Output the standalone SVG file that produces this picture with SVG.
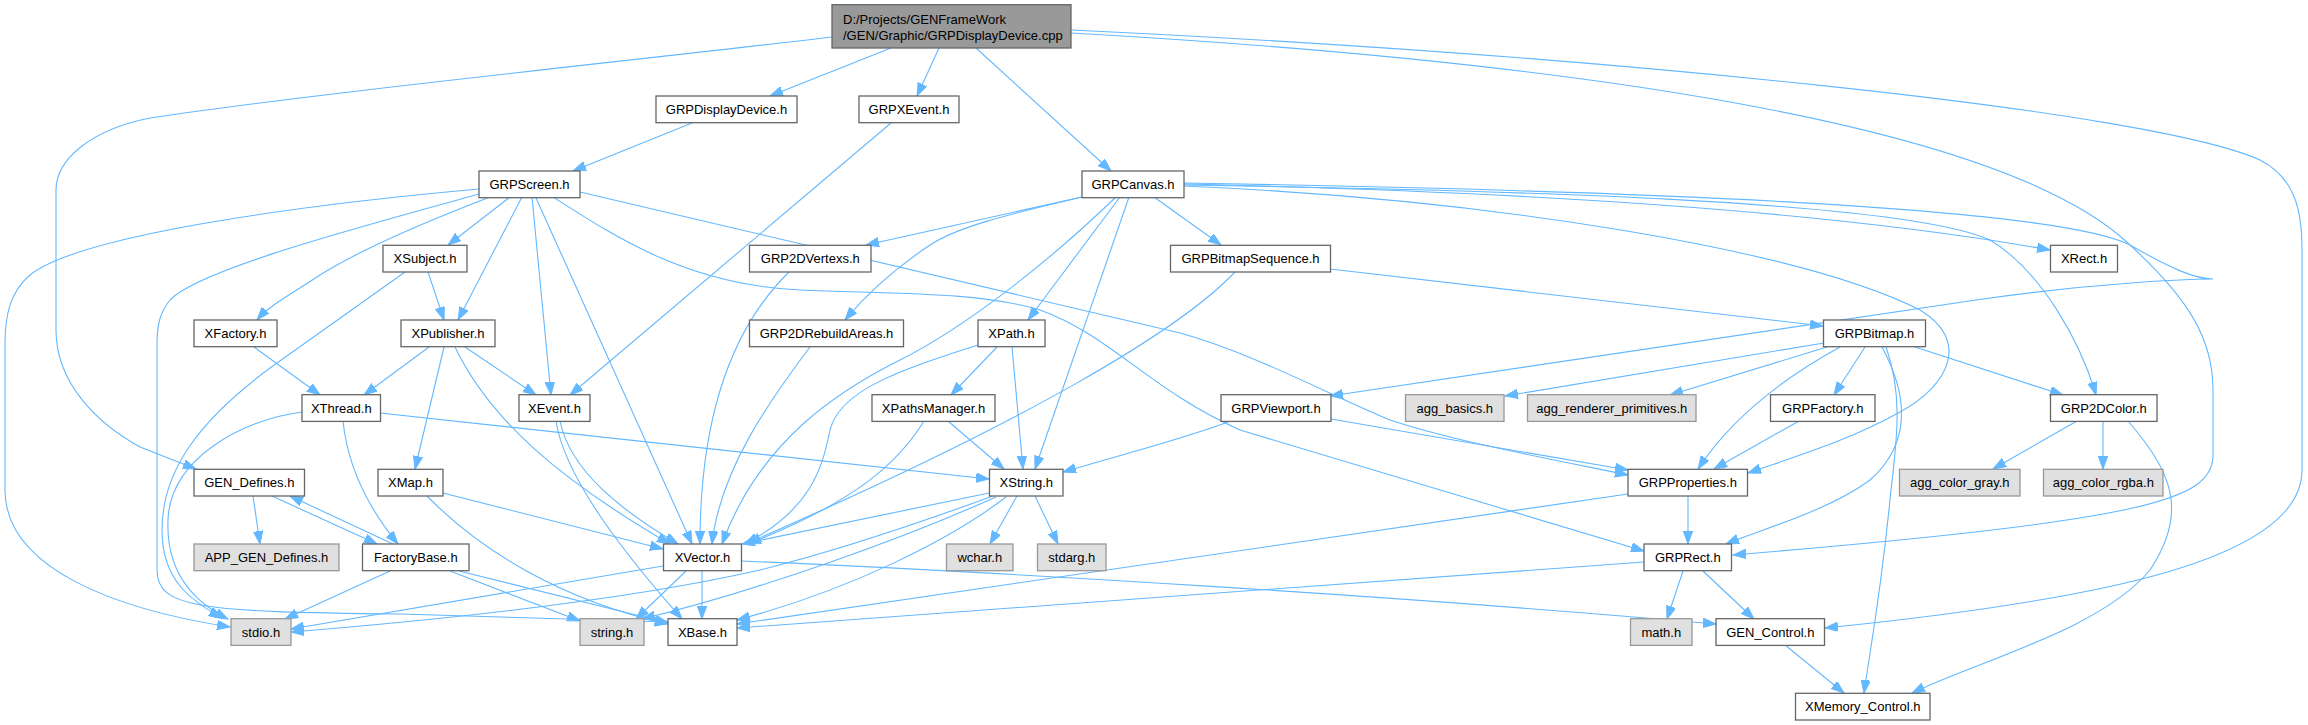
<svg xmlns="http://www.w3.org/2000/svg" width="2308" height="725" viewBox="0 0 2308 725">
<style>
.n rect{fill:#ffffff;stroke:#666666;stroke-width:1.3}
.g rect{fill:#e0e0e0;stroke:#999999;stroke-width:1.3}
.r rect{fill:#999999;stroke:#666666;stroke-width:1.3}
text{font-family:"Liberation Sans",Arial,sans-serif;font-size:13px;fill:#000000}
.n text,.g text{text-anchor:middle}
#edges path{fill:none;stroke:#63b8ff;stroke-width:1.1;marker-end:url(#a)}
</style>
<defs>
<marker id="a" markerUnits="userSpaceOnUse" markerWidth="14" markerHeight="10" refX="13" refY="4.7" orient="auto">
<path d="M0,0 L13,4.7 L0,9.4 z" fill="#63b8ff" stroke="#63b8ff" stroke-width="1"/>
</marker>
</defs>
<rect width="2308" height="725" fill="#ffffff"/>
<g id="edges">
<path d="M891,48 L770,96"/>
<path d="M939,48 L917,96"/>
<path d="M976,48 L1111,171"/>
<path d="M832,37 C620,62 300,95 150,118 C90,130 56,160 56,190 L56,330 C56,385 100,425 140,447 L196,469"/>
<path d="M1071,33 C1550,60 2000,120 2130,245 C2190,300 2213,340 2213,390 L2213,455 C2213,500 2150,520 1733,555"/>
<path d="M1071,30 C1600,55 2150,110 2260,160 C2295,178 2302,210 2302,250 L2302,470 C2302,560 2100,600 1825,628"/>
<path d="M692,123 L573,171"/>
<path d="M891,123 L570,395"/>
<path d="M479,189 C300,205 80,235 30,275 C10,292 5,315 5,345 L5,490 C5,570 120,610 230,627"/>
<path d="M479,194 C380,222 200,268 170,300 C160,312 157,325 157,345 L157,570 C157,608 200,612 400,614 L668,622"/>
<path d="M490,197 C430,220 360,250 320,275 C290,295 270,305 257,320"/>
<path d="M510,197 L448,245"/>
<path d="M522,197 L458,320"/>
<path d="M532,197 L551,395"/>
<path d="M536,198 L692,544"/>
<path d="M553,197 C620,240 690,285 800,290 C900,294 980,292 1040,310 C1110,335 1150,390 1240,430 L1644,551"/>
<path d="M580,192 L1180,333 C1250,352 1330,395 1390,420 C1450,440 1530,455 1628,475"/>
<path d="M428,272 L444,320"/>
<path d="M405,272 L270,368 C200,420 162,470 162,530 C162,580 190,600 222,618"/>
<path d="M254,347 L320,395"/>
<path d="M429,347 L364,395"/>
<path d="M465,347 L536,395"/>
<path d="M444,347 L415,469"/>
<path d="M455,347 C490,420 560,480 670,544"/>
<path d="M443,493 L663,549"/>
<path d="M427,496 C480,550 560,600 668,624"/>
<path d="M302,412 C240,420 170,460 168,520 C166,570 190,600 228,619"/>
<path d="M380,413 L989,479"/>
<path d="M343,421 C348,470 370,510 398,544"/>
<path d="M560,421 C570,470 620,510 678,544"/>
<path d="M556,421 C565,480 630,560 682,619"/>
<path d="M253,496 L260,544"/>
<path d="M272,496 L377,544"/>
<path d="M393,544 L290,496"/>
<path d="M390,571 L285,619"/>
<path d="M450,571 L580,621"/>
<path d="M459,571 L668,623"/>
<path d="M1082,197 L866,245"/>
<path d="M1082,197 C1020,212 960,225 930,245 C900,265 870,290 845,320"/>
<path d="M1116,197 C1040,270 960,330 900,360 C840,390 760,440 722,544"/>
<path d="M1120,197 L1028,320"/>
<path d="M1129,197 L1035,469"/>
<path d="M1154,197 L1221,245"/>
<path d="M1184,184 C1450,190 1800,205 2050,250"/>
<path d="M1184,185 C1500,190 1900,200 1990,240 C2040,270 2080,340 2096,395"/>
<path d="M1184,183 C1600,190 2050,205 2130,245 C2170,268 2195,279 2213,279 C2195,279 2100,282 1976,300 L1330,396"/>
<path d="M1184,186 C1500,200 1800,250 1920,310 C1970,340 1950,385 1900,412 C1850,440 1800,455 1748,473"/>
<path d="M1330,269 L1823,326"/>
<path d="M1235,272 C1180,330 1030,420 748,543"/>
<path d="M997,347 L951,395"/>
<path d="M1012,347 L1023,469"/>
<path d="M978,345 C900,370 840,390 830,430 C822,470 810,510 745,544"/>
<path d="M789,272 C740,320 700,400 700,544"/>
<path d="M810,347 C770,400 720,470 712,544"/>
<path d="M924,421 C900,460 860,500 748,544"/>
<path d="M948,421 L1004,469"/>
<path d="M1824,343 L1505,396"/>
<path d="M1827,347 L1670,395"/>
<path d="M1840,347 C1780,380 1730,420 1698,469"/>
<path d="M1865,347 L1834,395"/>
<path d="M1882,347 C1905,390 1915,440 1870,480 C1830,510 1760,530 1726,544"/>
<path d="M1886,347 C1905,400 1895,450 1890,500 C1880,600 1870,650 1864,693"/>
<path d="M1915,347 L2063,395"/>
<path d="M1331,419 L1628,470"/>
<path d="M1231,421 C1180,440 1120,455 1063,472"/>
<path d="M1799,421 L1714,469"/>
<path d="M2077,421 L1993,469"/>
<path d="M2103,421 L2103,469"/>
<path d="M2128,421 C2170,470 2190,510 2150,570 C2100,630 1980,660 1912,693"/>
<path d="M1688,496 L1688,544"/>
<path d="M1628,494 L737,624"/>
<path d="M1644,562 L737,628"/>
<path d="M1683,571 L1667,619"/>
<path d="M1703,571 L1754,619"/>
<path d="M741,561 C1000,572 1400,596 1716,624"/>
<path d="M1785,645 L1844,693"/>
<path d="M663,566 L291,629"/>
<path d="M686,571 L636,619"/>
<path d="M702,571 L702,619"/>
<path d="M989,493 L742,544"/>
<path d="M993,496 C900,530 820,555 760,570 C650,595 500,615 291,632"/>
<path d="M996,497 C900,540 760,590 642,619"/>
<path d="M1006,497 C950,540 850,590 737,620"/>
<path d="M1017,496 L990,544"/>
<path d="M1035,496 L1058,544"/>
</g>
<g id="root" class="r"><rect x="832" y="4.7" width="239" height="43.3"/><text x="843" y="23.5">D:/Projects/GENFrameWork</text><text x="843" y="39.5">/GEN/Graphic/GRPDisplayDevice.cpp</text></g>
<g id="GRPDisplayDevice_h" class="n"><rect x="656" y="96" width="141" height="26.7"/><text x="726.5" y="114">GRPDisplayDevice.h</text></g>
<g id="GRPXEvent_h" class="n"><rect x="859" y="96" width="100" height="26.7"/><text x="909" y="114">GRPXEvent.h</text></g>
<g id="GRPScreen_h" class="n"><rect x="479" y="171" width="101" height="26.7"/><text x="529.5" y="189">GRPScreen.h</text></g>
<g id="GRPCanvas_h" class="n"><rect x="1082" y="171" width="102" height="26.7"/><text x="1133" y="189">GRPCanvas.h</text></g>
<g id="XSubject_h" class="n"><rect x="383" y="245.3" width="84" height="26.7"/><text x="425" y="263.3">XSubject.h</text></g>
<g id="GRP2DVertexs_h" class="n"><rect x="749.5" y="245.3" width="121.5" height="26.7"/><text x="810.3" y="263.3">GRP2DVertexs.h</text></g>
<g id="GRPBitmapSequence_h" class="n"><rect x="1170.5" y="245.3" width="160" height="26.7"/><text x="1250.5" y="263.3">GRPBitmapSequence.h</text></g>
<g id="XRect_h" class="n"><rect x="2050.5" y="245.3" width="67" height="26.7"/><text x="2084" y="263.3">XRect.h</text></g>
<g id="XFactory_h" class="n"><rect x="194" y="320" width="83" height="26.7"/><text x="235.5" y="338">XFactory.h</text></g>
<g id="XPublisher_h" class="n"><rect x="401" y="320" width="94" height="26.7"/><text x="448" y="338">XPublisher.h</text></g>
<g id="GRP2DRebuildAreas_h" class="n"><rect x="749.5" y="320" width="154" height="26.7"/><text x="826.5" y="338">GRP2DRebuildAreas.h</text></g>
<g id="XPath_h" class="n"><rect x="978" y="320" width="67" height="26.7"/><text x="1011.5" y="338">XPath.h</text></g>
<g id="GRPBitmap_h" class="n"><rect x="1823.5" y="320" width="102" height="26.7"/><text x="1874.5" y="338">GRPBitmap.h</text></g>
<g id="XThread_h" class="n"><rect x="302" y="394.7" width="78.5" height="26.7"/><text x="341.3" y="412.7">XThread.h</text></g>
<g id="XEvent_h" class="n"><rect x="519" y="394.7" width="71" height="26.7"/><text x="554.5" y="412.7">XEvent.h</text></g>
<g id="XPathsManager_h" class="n"><rect x="872" y="394.7" width="123" height="26.7"/><text x="933.5" y="412.7">XPathsManager.h</text></g>
<g id="GRPViewport_h" class="n"><rect x="1221" y="394.7" width="110" height="26.7"/><text x="1276" y="412.7">GRPViewport.h</text></g>
<g id="agg_basics_h" class="g"><rect x="1405.5" y="394.7" width="98.5" height="26.7"/><text x="1454.8" y="412.7">agg_basics.h</text></g>
<g id="agg_renderer_primitives_h" class="g"><rect x="1527.5" y="394.7" width="168.5" height="26.7"/><text x="1611.8" y="412.7">agg_renderer_primitives.h</text></g>
<g id="GRPFactory_h" class="n"><rect x="1770.5" y="394.7" width="104.5" height="26.7"/><text x="1822.8" y="412.7">GRPFactory.h</text></g>
<g id="GRP2DColor_h" class="n"><rect x="2050.5" y="394.7" width="106.5" height="26.7"/><text x="2103.8" y="412.7">GRP2DColor.h</text></g>
<g id="GEN_Defines_h" class="n"><rect x="194" y="469.3" width="110.5" height="26.7"/><text x="249.3" y="487.3">GEN_Defines.h</text></g>
<g id="XMap_h" class="n"><rect x="378" y="469.3" width="65" height="26.7"/><text x="410.5" y="487.3">XMap.h</text></g>
<g id="XString_h" class="n"><rect x="989.5" y="469.3" width="73.5" height="26.7"/><text x="1026.3" y="487.3">XString.h</text></g>
<g id="GRPProperties_h" class="n"><rect x="1628" y="469.3" width="119.5" height="26.7"/><text x="1687.8" y="487.3">GRPProperties.h</text></g>
<g id="agg_color_gray_h" class="g"><rect x="1899.5" y="469.3" width="120.5" height="26.7"/><text x="1959.8" y="487.3">agg_color_gray.h</text></g>
<g id="agg_color_rgba_h" class="g"><rect x="2043.5" y="469.3" width="119.5" height="26.7"/><text x="2103.3" y="487.3">agg_color_rgba.h</text></g>
<g id="APP_GEN_Defines_h" class="g"><rect x="194" y="544" width="145" height="26.7"/><text x="266.5" y="562">APP_GEN_Defines.h</text></g>
<g id="FactoryBase_h" class="n"><rect x="362.5" y="544" width="106.5" height="26.7"/><text x="415.8" y="562">FactoryBase.h</text></g>
<g id="XVector_h" class="n"><rect x="663.5" y="544" width="78" height="26.7"/><text x="702.5" y="562">XVector.h</text></g>
<g id="wchar_h" class="g"><rect x="946.5" y="544" width="66.5" height="26.7"/><text x="979.8" y="562">wchar.h</text></g>
<g id="stdarg_h" class="g"><rect x="1037.5" y="544" width="68.5" height="26.7"/><text x="1071.8" y="562">stdarg.h</text></g>
<g id="GRPRect_h" class="n"><rect x="1644" y="544" width="87.5" height="26.7"/><text x="1687.8" y="562">GRPRect.h</text></g>
<g id="stdio_h" class="g"><rect x="231" y="618.7" width="60" height="26.7"/><text x="261" y="636.7">stdio.h</text></g>
<g id="string_h" class="g"><rect x="580" y="618.7" width="64" height="26.7"/><text x="612" y="636.7">string.h</text></g>
<g id="XBase_h" class="n"><rect x="668" y="618.7" width="69" height="26.7"/><text x="702.5" y="636.7">XBase.h</text></g>
<g id="math_h" class="g"><rect x="1630.5" y="618.7" width="61.5" height="26.7"/><text x="1661.3" y="636.7">math.h</text></g>
<g id="GEN_Control_h" class="n"><rect x="1716" y="618.7" width="108.5" height="26.7"/><text x="1770.3" y="636.7">GEN_Control.h</text></g>
<g id="XMemory_Control_h" class="n"><rect x="1795.5" y="693.3" width="134.5" height="26.7"/><text x="1862.8" y="711.3">XMemory_Control.h</text></g>
</svg>
